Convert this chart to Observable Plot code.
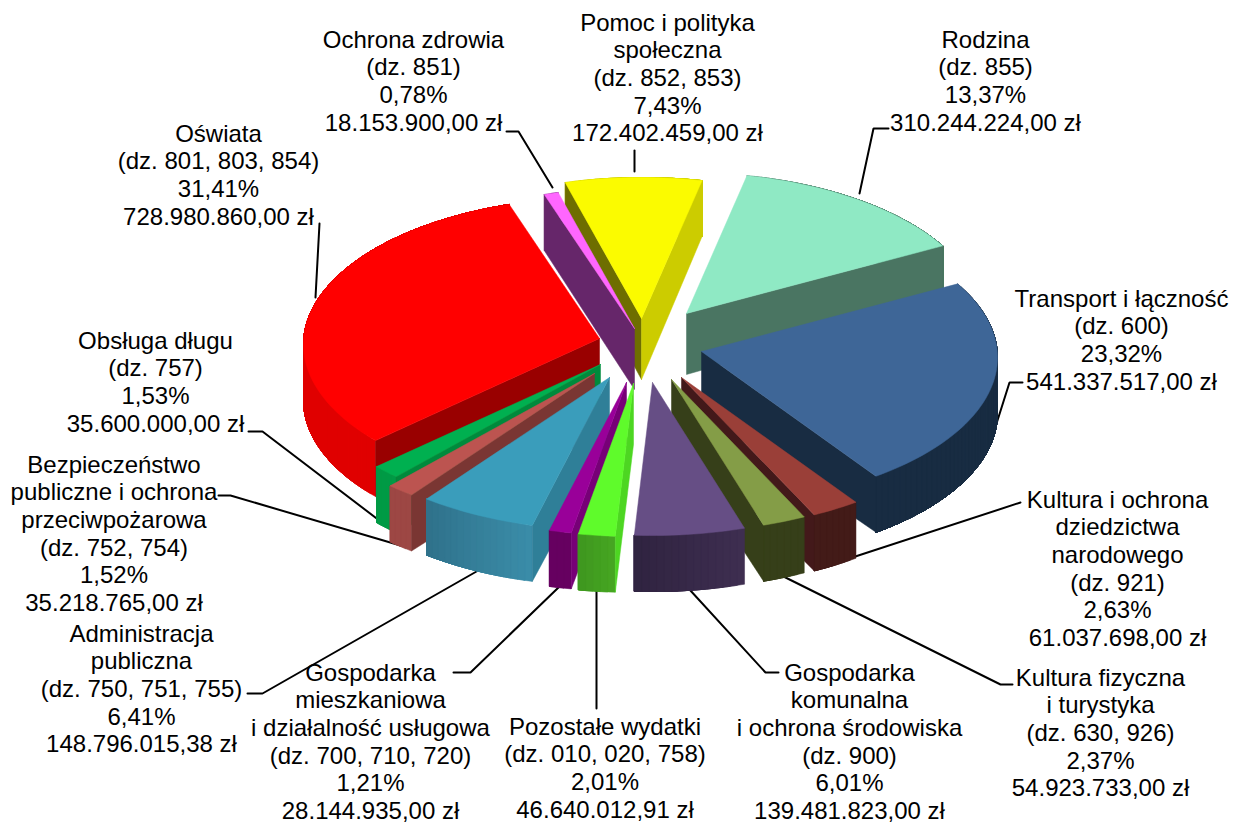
<!DOCTYPE html>
<html lang="pl">
<head>
<meta charset="utf-8">
<script src="https://cdn.jsdelivr.net/npm/d3@7"></script>
<script src="https://cdn.jsdelivr.net/npm/@observablehq/plot@0.6"></script>
<style>
html,body{margin:0;padding:0;background:#fff;}
svg{display:block;}
</style>
</head>
<body>
<div id="chart"></div>
<script>
// ---------- DATA (clockwise from the top of the pie) ----------
const keys = ["rodzina","transport","kultura","fizyczna","komunalna","pozostale","mieszkaniowa","administracja","bezpieczenstwo","dlug","oswiata","zdrowie","pomoc"];
const names = ["Rodzina","Transport i łączność","Kultura i ochrona\ndziedzictwa\nnarodowego","Kultura fizyczna\ni turystyka","Gospodarka\nkomunalna\ni ochrona środowiska","Pozostałe wydatki","Gospodarka\nmieszkaniowa\ni działalność usługowa","Administracja\npubliczna","Bezpieczeństwo\npubliczne i ochrona\nprzeciwpożarowa","Obsługa długu","Oświata","Ochrona zdrowia","Pomoc i polityka\nspołeczna"];
const divisions = ["(dz. 855)","(dz. 600)","(dz. 921)","(dz. 630, 926)","(dz. 900)","(dz. 010, 020, 758)","(dz. 700, 710, 720)","(dz. 750, 751, 755)","(dz. 752, 754)","(dz. 757)","(dz. 801, 803, 854)","(dz. 851)","(dz. 852, 853)"];
const shares = [13.37,23.32,2.63,2.37,6.01,2.01,1.21,6.41,1.52,1.53,31.41,0.78,7.43];
const amounts = ["310.244.224,00 zł","541.337.517,00 zł","61.037.698,00 zł","54.923.733,00 zł","139.481.823,00 zł","46.640.012,91 zł","28.144.935,00 zł","148.796.015,38 zł","35.218.765,00 zł","35.600.000,00 zł","728.980.860,00 zł","18.153.900,00 zł","172.402.459,00 zł"];

// ---------- STYLE ----------
const topColors   = ["#8fe9c4","#3e6697","#9a3f38","#849d47","#664e85","#5ffb2b","#990099","#3a9dbb","#bc5450","#00b050","#ff0000","#ff66ff","#fbfb00"];
const startWalls  = ["#4a7562","#182c42","#43191a","#363f19","#3e2e50","#4dd622","#770077","#2f7f98","#7a3633","#008a3c","#990000","#66266a","#6e6e00"];
const endWalls    = ["#4a7562","#182c42","#43191a","#363f19","#3e2e50","#4dd622","#770077","#2f7f98","#7a3633","#008a3c","#990000","#66266a","#cccc00"];
const rimFrom     = ["#4a7562","#182c42","#431b18","#363f19","#3e2e50","#46a522","#660060","#3a8ca8","#9d4744","#009a45","#e00000","#66266a","#cccc00"];
const rimTo       = ["#4a7562","#182c42","#431b18","#363f19","#2f2340","#3d951e","#660060","#2f7089","#9d4744","#009a45","#e00000","#66266a","#cccc00"];

// ---------- LAYOUT ----------
const pie = {startDeg:-78.2, rx:296, ry:147, rimDrop:6, rimH:56, apexH:61};
// where each exploded slice's tip ended up
const tips = {rodzina:[686,313],transport:[701,351],kultura:[681,377],fizyczna:[671,379],komunalna:[652,382],pozostale:[633,383],mieszkaniowa:[626,382],administracja:[609,377],bezpieczenstwo:[594,373],dlug:[600,364],oswiata:[599,338],zdrowie:[634,328],pomoc:[641,318]};
const paintOrder = ["pomoc","zdrowie","rodzina","oswiata","transport","dlug","bezpieczenstwo","kultura","fizyczna","komunalna","administracja","mieszkaniowa","pozostale"];
const labelAt = {rodzina:[985,38.5],transport:[1121,297.5],kultura:[1117,498.5],fizyczna:[1100,676.5],komunalna:[849,671.5],pozostale:[604.5,725.5],mieszkaniowa:[370,671.5],administracja:[141,632.5],bezpieczenstwo:[113.5,463.5],dlug:[155,339.5],oswiata:[218,132.5],zdrowie:[413,38.5],pomoc:[667,21.5]};
const leaderAt = {
  rodzina:[[888,128],[873,128],[859,193]],
  transport:[[1022,382],[1009,382],[990,442]],
  kultura:[[1020,502],[815,569]],
  fizyczna:[[1012,684],[1000,684],[783,576]],
  komunalna:[[778,672],[765,672],[689,589]],
  pozostale:[[596,708],[596,589]],
  mieszkaniowa:[[453,672],[470,672],[559,586]],
  administracja:[[247,693],[262,693],[476,571]],
  bezpieczenstwo:[[218,495],[230,495],[400,545]],
  dlug:[[248,431],[262,431],[388,527]],
  oswiata:[[319,223],[315,297]],
  zdrowie:[[506,131],[518,131],[552,187]],
  pomoc:[[634,150],[634,171]]
};
const fontSize = 24, lineStep = 27.6;

// ---------- GEOMETRY from the shares ----------
const rad = d => d * Math.PI / 180;
let polys = [];
let a = pie.startDeg;
const slices = keys.map((k, i) => {
  const s = {k, i, t0:a, t1:a + shares[i] * 3.6};
  a = s.t1;
  return s;
});
const rim = (tip, t, down) => [tip[0] + pie.rx * Math.cos(rad(t)), tip[1] + pie.rimDrop + pie.ry * Math.sin(rad(t)) + down];
const add = (id, fill, pts) => [...pts, pts[0]].forEach(p => polys.push({id, fill, x:p[0], y:p[1]}));

for (const key of paintOrder) {
  const s = slices.find(d => d.k === key), tip = tips[key], i = s.i;
  const steps = Math.max(2, Math.ceil((s.t1 - s.t0) / 1.5));
  const ts = d3.range(steps + 1).map(j => s.t0 + (s.t1 - s.t0) * j / steps);
  const mix = d3.interpolateRgb(rimFrom[i], rimTo[i]);
  // curved outer wall: each strip reaches to the slice's end, the next paints over it
  for (let j = 0; j < steps; j++) {
    const arc = ts.slice(j);
    add(`${key}-rim-${j}`, d3.color(mix(j / steps)).formatHex(), [
      ...arc.map(t => rim(tip, t, 0)), ...arc.slice().reverse().map(t => rim(tip, t, pie.rimH))
    ]);
  }
  // radial walls that face the viewer
  const apexLow = [tip[0], tip[1] + pie.apexH];
  if (Math.cos(rad(s.t0)) < 0) add(`${key}-w0`, startWalls[i], [tip, rim(tip, s.t0, 0), rim(tip, s.t0, pie.rimH), apexLow]);
  if (Math.cos(rad(s.t1)) > 0) add(`${key}-w1`, endWalls[i], [tip, rim(tip, s.t1, 0), rim(tip, s.t1, pie.rimH), apexLow]);
  // top face
  add(`${key}-top`, topColors[i], [tip, ...ts.map(t => rim(tip, t, 0))]);
}

const leaders = keys.flatMap(k => leaderAt[k].map(p => ({k, x:p[0], y:p[1]})));
const labels = keys.map((k, i) => {
  const text = [names[i], divisions[i], shares[i].toFixed(2).replace(".", ",") + "%", amounts[i]].join("\n");
  const n = text.split("\n").length;
  return {text, x:labelAt[k][0], y:labelAt[k][1] + (n - 1) * lineStep / 2};
});

const chart = Plot.plot({
  width:1241, height:823,
  margin:0,
  x:{domain:[0,1241], range:[0,1241], axis:null},
  y:{domain:[0,823], range:[0,823], axis:null},
  color:{type:"identity"},
  style:{background:"#fff"},
  marks:[
    Plot.line(leaders, {x:"x", y:"y", z:"k", stroke:"#000", strokeWidth:2, strokeLinejoin:"miter"}),
    Plot.line(polys, {x:"x", y:"y", z:"id", fill:"fill", stroke:"fill", strokeWidth:0.5, strokeLinejoin:"round"}),
    Plot.text(labels, {x:"x", y:"y", text:"text", textAnchor:"middle", lineAnchor:"middle", lineHeight:lineStep/fontSize, fontSize, fontFamily:"Liberation Sans, Arial, sans-serif", fill:"#000"})
  ]
});
document.getElementById("chart").append(chart);
</script>
</body>
</html>
